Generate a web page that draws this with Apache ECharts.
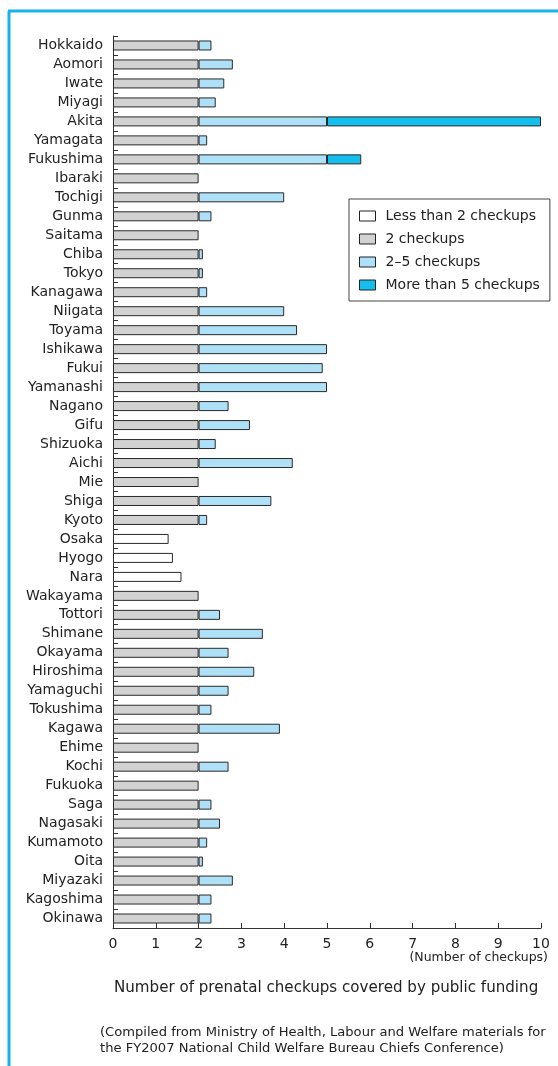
<!DOCTYPE html>
<html><head><meta charset="utf-8">
<script src="https://cdn.jsdelivr.net/npm/echarts@6/dist/echarts.min.js"></script>
<style>html,body{margin:0;padding:0;background:#fff}#c{width:558px;height:1066px}</style>
</head><body><div id="c"></div>
<script>
const prefectures = ["Hokkaido","Aomori","Iwate","Miyagi","Akita","Yamagata","Fukushima","Ibaraki","Tochigi","Gunma","Saitama","Chiba","Tokyo","Kanagawa","Niigata","Toyama","Ishikawa","Fukui","Yamanashi","Nagano","Gifu","Shizuoka","Aichi","Mie","Shiga","Kyoto","Osaka","Hyogo","Nara","Wakayama","Tottori","Shimane","Okayama","Hiroshima","Yamaguchi","Tokushima","Kagawa","Ehime","Kochi","Fukuoka","Saga","Nagasaki","Kumamoto","Oita","Miyazaki","Kagoshima","Okinawa"];
// segment values (checkups)
const lessThan2 = [null,null,null,null,null,null,null,null,null,null,null,null,null,null,null,null,null,null,null,null,null,null,null,null,null,null,1.3,1.4,1.6,null,null,null,null,null,null,null,null,null,null,null,null,null,null,null,null,null,null];
const twoCheckups = [2,2,2,2,2,2,2,2,2,2,2,2,2,2,2,2,2,2,2,2,2,2,2,2,2,2,null,null,null,2,2,2,2,2,2,2,2,2,2,2,2,2,2,2,2,2,2];
const twoToFive = [0.3,0.8,0.6,0.4,3,0.2,3,null,2,0.3,null,0.1,0.1,0.2,2,2.3,3,2.9,3,0.7,1.2,0.4,2.2,null,1.7,0.2,null,null,null,null,0.5,1.5,0.7,1.3,0.7,0.3,1.9,null,0.7,null,0.3,0.5,0.2,0.1,0.8,0.3,0.3];
const moreThan5 = [null,null,null,null,5,null,0.8,null,null,null,null,null,null,null,null,null,null,null,null,null,null,null,null,null,null,null,null,null,null,null,null,null,null,null,null,null,null,null,null,null,null,null,null,null,null,null,null];
const xTicks = [0,1,2,3,4,5,6,7,8,9,10];
const seriesNames = ["Less than 2 checkups","2 checkups","2–5 checkups","More than 5 checkups"];
const colors = ["#ffffff","#d2d2d2","#aee0f8","#14bfee"];

const chart = echarts.init(document.getElementById('c'), null, {renderer:'canvas'});
const FONT = '"DejaVu Sans", sans-serif';
const mk = (i, data) => ({
  name: seriesNames[i], type: 'bar', stack: 'a', data: data, barWidth: 10,
  itemStyle: {color: colors[i], borderColor: '#2a2a2a', borderWidth: 1},
  emphasis: {disabled: true}, animation: false
});
chart.setOption({
  animation: false,
  textStyle: {fontFamily: FONT},
  grid: {left: 113, right: 17, top: 36, bottom: 138, containLabel: false},
  legend: {
    orient: 'vertical', left: 349, top: 199,
    padding: [10, 10, 9, 10], itemGap: 9, itemWidth: 16, itemHeight: 10,
    icon: 'rect',
    borderColor: '#444', borderWidth: 1, backgroundColor: '#fff',
    textStyle: {fontSize: 14, lineHeight: 14, color: '#222', fontFamily: FONT, padding: [0, 0, 0, 5]},
    data: seriesNames.map((n,i)=>({name:n, icon:'rect', itemStyle:{color:colors[i], borderColor:'#222', borderWidth:1}}))
  },
  xAxis: {
    type: 'value', min: 0, max: 10, interval: 1,
    axisLine: {show: true, lineStyle: {color: '#333', width: 1}},
    axisTick: {show: true, inside: true, length: 5, lineStyle: {color: '#333'}},
    splitLine: {show: false},
    axisLabel: {fontSize: 14, color: '#222', margin: 9, fontFamily: FONT,
      formatter: v => xTicks.includes(v) ? String(v) : ''}
  },
  yAxis: {
    type: 'category', data: prefectures, inverse: true,
    axisLine: {show: true, lineStyle: {color: '#333', width: 1}},
    axisTick: {show: true, inside: true, length: 5, alignWithLabel: false, lineStyle: {color: '#333'}},
    axisLabel: {fontSize: 14, color: '#222', margin: 10, fontFamily: FONT}
  },
  series: [mk(0, lessThan2), mk(1, twoCheckups), mk(2, twoToFive), mk(3, moreThan5)],
  graphic: [
    {type: 'line', shape: {x1: 9, y1: 11, x2: 9, y2: 1066}, style: {stroke: '#19b3ea', lineWidth: 3}},
    {type: 'line', shape: {x1: 8, y1: 11, x2: 558, y2: 11}, style: {stroke: '#19b3ea', lineWidth: 3}},
    {type: 'text', x: 548, y: 958, style: {text: '(Number of checkups)', fontSize: 12.5, fill: '#222', fontFamily: FONT, align: 'right', verticalAlign: 'middle'}},
    {type: 'text', x: 114, y: 988, style: {text: 'Number of prenatal checkups covered by public funding', fontSize: 15.1, fill: '#222', fontFamily: FONT, verticalAlign: 'middle'}},
    {type: 'text', x: 100, y: 1025, style: {text: '(Compiled from Ministry of Health, Labour and Welfare materials for\nthe FY2007 National Child Welfare Bureau Chiefs Conference)', fontSize: 13.1, lineHeight: 16, fill: '#222', fontFamily: FONT}}
  ]
});
</script></body></html>
